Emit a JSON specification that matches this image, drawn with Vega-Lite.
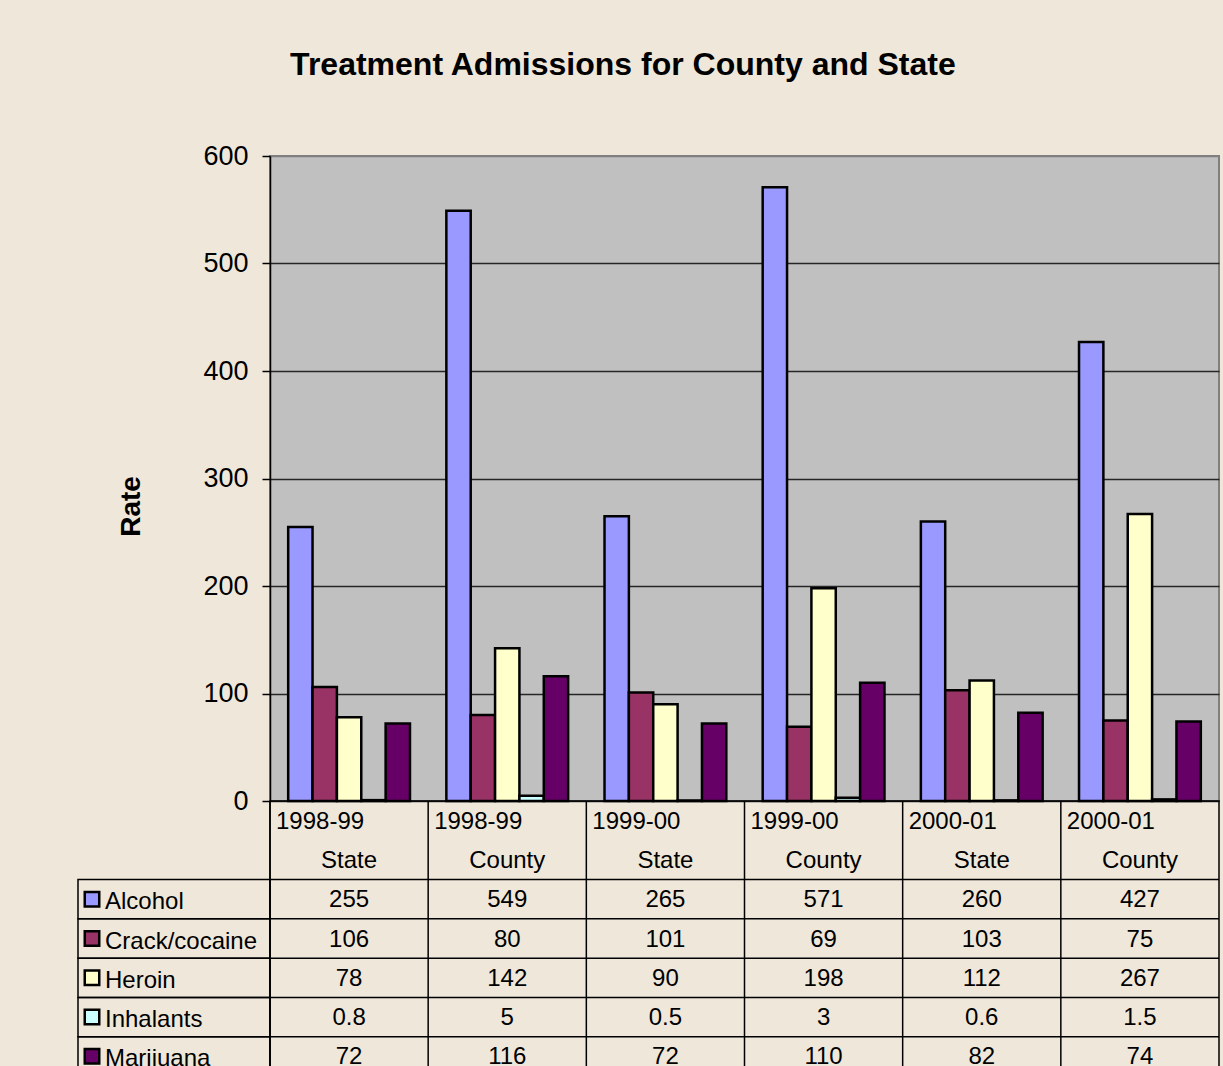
{
  "$schema": "https://vega.github.io/schema/vega-lite/v6.json",
  "background": "#EFE7DA",
  "padding": {"left": 77, "top": 49, "right": 3, "bottom": -10},
  "title": {"text": "Treatment Admissions for County and State", "font": "Liberation Sans", "fontSize": 32, "fontWeight": "bold", "color": "black", "anchor": "middle", "offset": 59, "dx": -26},
  "datasets": {
    "cells": [
      {"cat": "1998-99 State", "drug": "Alcohol", "value": 255},
      {"cat": "1998-99 State", "drug": "Crack/cocaine", "value": 106},
      {"cat": "1998-99 State", "drug": "Heroin", "value": 78},
      {"cat": "1998-99 State", "drug": "Inhalants", "value": 0.8},
      {"cat": "1998-99 State", "drug": "Marijuana", "value": 72},
      {"cat": "1998-99 County", "drug": "Alcohol", "value": 549},
      {"cat": "1998-99 County", "drug": "Crack/cocaine", "value": 80},
      {"cat": "1998-99 County", "drug": "Heroin", "value": 142},
      {"cat": "1998-99 County", "drug": "Inhalants", "value": 5},
      {"cat": "1998-99 County", "drug": "Marijuana", "value": 116},
      {"cat": "1999-00 State", "drug": "Alcohol", "value": 265},
      {"cat": "1999-00 State", "drug": "Crack/cocaine", "value": 101},
      {"cat": "1999-00 State", "drug": "Heroin", "value": 90},
      {"cat": "1999-00 State", "drug": "Inhalants", "value": 0.5},
      {"cat": "1999-00 State", "drug": "Marijuana", "value": 72},
      {"cat": "1999-00 County", "drug": "Alcohol", "value": 571},
      {"cat": "1999-00 County", "drug": "Crack/cocaine", "value": 69},
      {"cat": "1999-00 County", "drug": "Heroin", "value": 198},
      {"cat": "1999-00 County", "drug": "Inhalants", "value": 3},
      {"cat": "1999-00 County", "drug": "Marijuana", "value": 110},
      {"cat": "2000-01 State", "drug": "Alcohol", "value": 260},
      {"cat": "2000-01 State", "drug": "Crack/cocaine", "value": 103},
      {"cat": "2000-01 State", "drug": "Heroin", "value": 112},
      {"cat": "2000-01 State", "drug": "Inhalants", "value": 0.6},
      {"cat": "2000-01 State", "drug": "Marijuana", "value": 82},
      {"cat": "2000-01 County", "drug": "Alcohol", "value": 427},
      {"cat": "2000-01 County", "drug": "Crack/cocaine", "value": 75},
      {"cat": "2000-01 County", "drug": "Heroin", "value": 267},
      {"cat": "2000-01 County", "drug": "Inhalants", "value": 1.5},
      {"cat": "2000-01 County", "drug": "Marijuana", "value": 74}
    ],
    "cols": [
      {"cat": "1998-99 State", "period": "1998-99", "geo": "State"},
      {"cat": "1998-99 County", "period": "1998-99", "geo": "County"},
      {"cat": "1999-00 State", "period": "1999-00", "geo": "State"},
      {"cat": "1999-00 County", "period": "1999-00", "geo": "County"},
      {"cat": "2000-01 State", "period": "2000-01", "geo": "State"},
      {"cat": "2000-01 County", "period": "2000-01", "geo": "County"}
    ],
    "drugs": [
      {"drug": "Alcohol"},
      {"drug": "Crack/cocaine"},
      {"drug": "Heroin"},
      {"drug": "Inhalants"},
      {"drug": "Marijuana"}
    ]
  },
  "columns": 2,
  "spacing": 0,
  "bounds": "flush",
  "concat": [
    {
      "width": 192,
      "height": 645,
      "data": {"values": []},
      "mark": "point"
    },
    {
      "width": 949,
      "height": 645,
      "data": {"name": "cells"},
      "view": {"fill": "#C0C0C0", "stroke": "#808080", "strokeWidth": 2},
      "mark": {"type": "bar", "stroke": "black", "strokeWidth": 2.5},
      "encoding": {
        "x": {"field": "cat", "type": "nominal", "sort": null, "scale": {"paddingInner": 0.23, "paddingOuter": 0.115}, "axis": null},
        "xOffset": {"field": "drug", "type": "nominal", "scale": {"domain": ["Alcohol", "Crack/cocaine", "Heroin", "Inhalants", "Marijuana"], "paddingInner": 0, "paddingOuter": 0}},
        "y": {
          "field": "value", "type": "quantitative",
          "scale": {"domain": [0, 600], "nice": false},
          "axis": {
            "values": [0, 100, 200, 300, 400, 500, 600],
            "title": "Rate",
            "titleFont": "Liberation Sans", "titleFontSize": 28, "titleFontWeight": "bold", "titleColor": "black",
            "titlePadding": 57, "titleY": 350,
            "labelFont": "Liberation Sans", "labelFontSize": 27, "labelColor": "black", "labelPadding": 14,
            "tickSize": 8, "tickColor": "black", "tickWidth": 1.5,
            "domainColor": "black", "domainWidth": 1.5,
            "grid": true, "gridWidth": 1.5,
            "gridColor": {"condition": {"test": "datum.value == 600", "value": "#808080"}, "value": "#262626"}
          }
        },
        "color": {"field": "drug", "type": "nominal", "scale": {"domain": ["Alcohol", "Crack/cocaine", "Heroin", "Inhalants", "Marijuana"], "range": ["#9999FF", "#993366", "#FFFFCC", "#CCFFFF", "#660066"]}, "legend": null}
      }
    },
    {
      "width": 192,
      "height": 275,
      "data": {"name": "drugs"},
      "layer": [
        {
          "mark": {"type": "rect", "fill": "transparent", "stroke": "black", "strokeWidth": 1.5},
          "encoding": {
            "y": {"field": "drug", "type": "nominal", "scale": {"domain": ["h1", "h2", "Alcohol", "Crack/cocaine", "Heroin", "Inhalants", "Marijuana"], "paddingInner": 0, "paddingOuter": 0}, "axis": null}
          }
        },
        {
          "mark": {"type": "point", "shape": "square", "filled": true, "size": 210, "stroke": "black", "strokeWidth": 2.5, "opacity": 1, "xOffset": 14},
          "encoding": {
            "x": {"datum": 0, "type": "quantitative", "scale": {"domain": [0, 1]}, "axis": null},
            "y": {"field": "drug", "type": "nominal", "scale": {"domain": ["h1", "h2", "Alcohol", "Crack/cocaine", "Heroin", "Inhalants", "Marijuana"], "paddingInner": 0, "paddingOuter": 0}, "axis": null},
            "color": {"field": "drug", "type": "nominal", "scale": {"domain": ["Alcohol", "Crack/cocaine", "Heroin", "Inhalants", "Marijuana"], "range": ["#9999FF", "#993366", "#FFFFCC", "#CCFFFF", "#660066"]}, "legend": null}
          }
        },
        {
          "mark": {"type": "text", "align": "left", "baseline": "middle", "dx": 27, "dy": 3, "font": "Liberation Sans", "fontSize": 24, "color": "black"},
          "encoding": {
            "x": {"datum": 0, "type": "quantitative", "scale": {"domain": [0, 1]}, "axis": null},
            "y": {"field": "drug", "type": "nominal", "scale": {"domain": ["h1", "h2", "Alcohol", "Crack/cocaine", "Heroin", "Inhalants", "Marijuana"], "paddingInner": 0, "paddingOuter": 0}, "axis": null},
            "text": {"field": "drug"}
          }
        }
      ]
    },
    {
      "width": 949,
      "height": 275,
      "view": {"stroke": "black", "strokeWidth": 1.5},
      "layer": [
        {
          "data": {"name": "cols"},
          "mark": {"type": "rule", "color": "black", "strokeWidth": 1.5},
          "encoding": {
            "x": {"field": "cat", "type": "nominal", "sort": null, "bandPosition": 0, "scale": {"paddingInner": 0, "paddingOuter": 0}, "axis": null}
          }
        },
        {
          "data": {"name": "drugs"},
          "mark": {"type": "rule", "color": "black", "strokeWidth": 1.5},
          "encoding": {
            "y": {"field": "drug", "type": "nominal", "bandPosition": 0, "scale": {"domain": ["h1", "h2", "Alcohol", "Crack/cocaine", "Heroin", "Inhalants", "Marijuana"], "paddingInner": 0, "paddingOuter": 0}, "axis": null}
          }
        },
        {
          "data": {"name": "cols"},
          "mark": {"type": "text", "align": "left", "baseline": "middle", "dx": 6, "dy": 1, "font": "Liberation Sans", "fontSize": 24, "color": "black"},
          "encoding": {
            "x": {"field": "cat", "type": "nominal", "sort": null, "bandPosition": 0, "scale": {"paddingInner": 0, "paddingOuter": 0}, "axis": null},
            "y": {"datum": "h1", "type": "nominal", "scale": {"domain": ["h1", "h2", "Alcohol", "Crack/cocaine", "Heroin", "Inhalants", "Marijuana"], "paddingInner": 0, "paddingOuter": 0}, "axis": null},
            "text": {"field": "period"}
          }
        },
        {
          "data": {"name": "cols"},
          "mark": {"type": "text", "align": "center", "baseline": "middle", "dy": 1, "font": "Liberation Sans", "fontSize": 24, "color": "black"},
          "encoding": {
            "x": {"field": "cat", "type": "nominal", "sort": null, "scale": {"paddingInner": 0, "paddingOuter": 0}, "axis": null},
            "y": {"datum": "h2", "type": "nominal", "scale": {"domain": ["h1", "h2", "Alcohol", "Crack/cocaine", "Heroin", "Inhalants", "Marijuana"], "paddingInner": 0, "paddingOuter": 0}, "axis": null},
            "text": {"field": "geo"}
          }
        },
        {
          "data": {"name": "cells"},
          "mark": {"type": "text", "align": "center", "baseline": "middle", "dy": 1, "font": "Liberation Sans", "fontSize": 24, "color": "black"},
          "encoding": {
            "x": {"field": "cat", "type": "nominal", "sort": null, "scale": {"paddingInner": 0, "paddingOuter": 0}, "axis": null},
            "y": {"field": "drug", "type": "nominal", "scale": {"domain": ["h1", "h2", "Alcohol", "Crack/cocaine", "Heroin", "Inhalants", "Marijuana"], "paddingInner": 0, "paddingOuter": 0}, "axis": null},
            "text": {"field": "value", "type": "quantitative"}
          }
        }
      ]
    }
  ],
  "config": {"view": {"stroke": null}, "font": "Liberation Sans"}
}
